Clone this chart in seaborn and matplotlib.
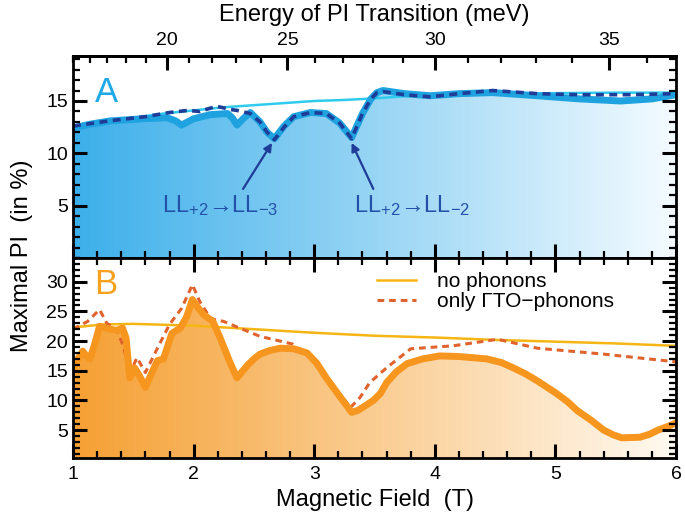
import numpy as np
import matplotlib
matplotlib.use('Agg')
import matplotlib.pyplot as plt
import seaborn as sns
from matplotlib.colors import LinearSegmentedColormap
from matplotlib.ticker import MultipleLocator

# --- data (field in T, PI in %) ---
field_a_thick = [1.0, 1.03, 1.15, 1.31, 1.58, 1.78, 1.85, 1.9, 1.95, 2.0, 2.14, 2.28, 2.32,
                 2.36, 2.41, 2.47, 2.55, 2.61, 2.67, 2.75, 2.83, 2.97, 3.1, 3.21, 3.31, 3.4,
                 3.47, 3.52, 3.57, 3.75, 3.96, 4.2, 4.48, 4.85, 5.2, 5.54, 5.8, 6.0]
pi_a_thick = [12.4, 12.5, 12.8, 13.1, 13.3, 13.4, 13.1, 12.7, 13.0, 13.3, 13.7, 13.8, 13.4,
              12.7, 13.3, 13.9, 13.0, 12.0, 11.4, 12.6, 13.5, 13.9, 13.8, 12.9, 11.5, 13.8,
              15.2, 15.8, 16.0, 15.7, 15.5, 15.7, 15.8, 15.5, 15.2, 15.0, 15.2, 15.6]

field_a_dash = [1.0, 1.3, 1.6, 1.8, 1.95, 2.05, 2.19, 2.3, 2.36, 2.47, 2.55, 2.61, 2.67, 2.75,
                2.83, 2.97, 3.1, 3.21, 3.31, 3.4, 3.47, 3.52, 3.57, 3.75, 3.96, 4.2, 4.48,
                4.85, 5.2, 5.6, 6.0]
pi_a_dash = [12.6, 13.1, 13.5, 13.9, 14.1, 14.0, 14.5, 14.2, 14.1, 13.8, 13.0, 12.0, 11.3, 12.5,
             13.5, 13.9, 13.8, 12.9, 11.4, 13.8, 15.2, 15.8, 15.9, 15.6, 15.4, 15.7, 16.0,
             15.7, 15.6, 15.6, 15.7]

field_a_thin = [1.0, 1.25, 1.5, 1.75, 2.0, 2.25, 2.5, 2.75, 3.0, 3.25, 3.5, 3.75, 4.0, 4.5,
                5.0, 5.5, 6.0]
pi_a_thin = [12.4, 12.9, 13.4, 13.8, 14.1, 14.4, 14.6, 14.8, 15.0, 15.1, 15.25, 15.45, 15.6,
             15.7, 15.75, 15.8, 15.8]

field_b_thick = [1.0, 1.04, 1.08, 1.11, 1.14, 1.18, 1.22, 1.27, 1.31, 1.36, 1.41, 1.44, 1.47,
                 1.51, 1.55, 1.6, 1.65, 1.7, 1.75, 1.82, 1.89, 1.94, 1.99, 2.03, 2.08, 2.16,
                 2.21, 2.26, 2.31, 2.36, 2.4, 2.45, 2.5, 2.55, 2.63, 2.72, 2.83, 2.94, 3.02,
                 3.1, 3.2, 3.31, 3.36, 3.4, 3.49, 3.55, 3.6, 3.68, 3.77, 3.9, 4.04, 4.2, 4.43,
                 4.55, 4.65, 4.75, 4.85, 5.0, 5.1, 5.18, 5.3, 5.4, 5.48, 5.55, 5.7, 5.78,
                 5.85, 5.93, 6.0]
pi_b_thick = [15.5, 17.0, 18.3, 17.5, 17.0, 19.5, 22.5, 22.2, 22.0, 21.8, 22.2, 20.5, 13.8,
              15.5, 14.2, 12.2, 14.5, 16.7, 17.0, 21.3, 22.2, 24.0, 27.0, 25.8, 24.5, 23.3,
              21.0, 18.5, 16.0, 13.8, 14.8, 16.0, 17.0, 17.8, 18.4, 18.8, 18.7, 18.0, 16.3,
              13.8, 11.0, 8.0, 8.3, 8.8, 10.0, 11.2, 13.0, 14.8, 16.2, 17.0, 17.5, 17.4, 17.0,
              16.4, 15.5, 14.5, 13.3, 11.3, 9.8, 8.3, 6.6, 5.0, 4.2, 3.7, 3.8, 4.3,
              5.0, 5.6, 6.2]

field_b_dash = [1.0, 1.12, 1.22, 1.28, 1.36, 1.42, 1.47, 1.53, 1.6, 1.7, 1.8, 1.9, 1.99, 2.05,
                2.14, 2.25, 2.38, 2.55, 2.82, 3.02, 3.19, 3.3, 3.38, 3.46, 3.6, 3.8, 4.15,
                4.52, 4.85, 5.4, 6.0]
pi_b_dash = [22.0, 23.3, 25.3, 23.0, 22.0, 19.0, 14.5, 17.2, 14.7, 18.8, 22.8, 25.5, 29.5, 26.7,
             23.8, 23.3, 22.2, 20.8, 19.5, 16.3, 11.7, 8.8, 10.5, 13.0, 15.5, 18.7, 19.2,
             20.3, 18.8, 17.8, 16.5]

field_b_thin = [1.0, 1.25, 1.5, 2.0, 2.5, 3.0, 3.5, 4.0, 4.5, 5.0, 5.5, 6.0]
pi_b_thin = [22.3, 22.8, 22.9, 22.6, 22.0, 21.4, 20.9, 20.6, 20.2, 19.9, 19.6, 19.2]

energy_ticks = [20, 25, 30, 35]
legend_labels = ['no phonons', 'only ΓTO−phonons']

# --- style (plain matplotlib rc, no seaborn theme) ---
plt.rcParams['font.family'] = ['Liberation Sans', 'DejaVu Sans']
plt.rcParams['mathtext.fontset'] = 'custom'
plt.rcParams['mathtext.rm'] = 'Liberation Sans'
plt.rcParams['mathtext.it'] = 'Liberation Sans'
plt.rcParams['axes.linewidth'] = 2.0
plt.rcParams['xtick.labelsize'] = 14
plt.rcParams['ytick.labelsize'] = 14

BLUE_FILL = LinearSegmentedColormap.from_list('bf', ['#3cafea', '#f4fbff'])
ORANGE_FILL = LinearSegmentedColormap.from_list('of', ['#f5a033', '#fffaf2'])


def gradient_fill(ax, x, y, cmap, ymax):
    poly = ax.fill_between(x, 0, y, facecolor='none', edgecolor='none')
    grad = np.linspace(0, 1, 256).reshape(1, -1)
    im = ax.imshow(grad, extent=[1, 6, 0, ymax], aspect='auto', cmap=cmap,
                   origin='lower', zorder=0.5)
    im.set_clip_path(poly.get_paths()[0], transform=ax.transData)


def set_ticks_in(axis_obj, **kw):
    axis_obj.tick_params(which='major', direction='in', length=10, width=2.2, color='black', **kw)
    axis_obj.tick_params(which='minor', direction='in', length=5, width=1.6, color='black', **kw)


def style_axis(ax, ymin, ymax, ymajor):
    ax.set_xlim(1, 6)
    ax.set_ylim(ymin, ymax)
    ax.xaxis.set_major_locator(MultipleLocator(1))
    ax.xaxis.set_minor_locator(MultipleLocator(0.2))
    ax.yaxis.set_major_locator(MultipleLocator(ymajor))
    ax.yaxis.set_minor_locator(MultipleLocator(1))
    ax.set_xlabel('')
    ax.set_ylabel('')
    # keep the tick marks above the gradient and the curves
    ax.xaxis.set_zorder(6)
    ax.yaxis.set_zorder(6)


fig, (ax_a, ax_b) = plt.subplots(2, 1, figsize=(6.85, 5.17), dpi=100,
                                 gridspec_kw=dict(height_ratios=[0.3907, 0.3869], hspace=0))
fig.subplots_adjust(left=0.1066, right=0.9869, top=0.8917, bottom=0.1141)

# --- panel A ---
gradient_fill(ax_a, field_a_thick, pi_a_thick, BLUE_FILL, 19.3)
sns.lineplot(x=field_a_thin, y=pi_a_thin, ax=ax_a, color='#2fcbee', lw=1.8, sort=False)
sns.lineplot(x=field_a_thick, y=pi_a_thick, ax=ax_a, color='#1ea3e0', lw=5.0, sort=False)
sns.lineplot(x=field_a_dash, y=pi_a_dash, ax=ax_a, color='#1f3d98', lw=2.6, sort=False,
             linestyle=(0, (2.2, 1.5)))
style_axis(ax_a, 0, 19.3, 5)
ax_a.set_yticks([5, 10, 15])
set_ticks_in(ax_a, left=True, right=True, bottom=True, top=False, labelbottom=False)

sec = ax_a.secondary_xaxis('top', functions=(lambda b: 15.0 * np.sqrt(np.clip(b, 1e-6, None)),
                                             lambda e: (np.asarray(e) / 15.0) ** 2))
sec.set_xticks(energy_ticks)
sec.xaxis.set_minor_locator(MultipleLocator(1))
set_ticks_in(sec)
sec.tick_params(labelsize=14, pad=5)
sec.set_xlabel('Energy of PI Transition (meV)', fontsize=17, labelpad=8)

ax_a.text(0.055, 0.82, 'A', transform=ax_a.transAxes, fontsize=25, color='#1fa9e8',
          ha='center', va='center')

txt_col = '#2350a8'
ax_a.text(2.22, 5.0, r'LL$_{+2}$→LL$_{-3}$', fontsize=17, color=txt_col, ha='center', va='center')
ax_a.text(3.81, 5.0, r'LL$_{+2}$→LL$_{-2}$', fontsize=17, color=txt_col, ha='center', va='center')
arrow = dict(arrowstyle='-|>', lw=1.6, color='#1f3d98', mutation_scale=12, shrinkA=0, shrinkB=0)
ax_a.annotate('', xy=(2.65, 11.0), xytext=(2.41, 6.6), arrowprops=arrow)
ax_a.annotate('', xy=(3.31, 11.0), xytext=(3.49, 6.6), arrowprops=arrow)

# --- panel B ---
gradient_fill(ax_b, field_b_thick, pi_b_thick, ORANGE_FILL, 34)
sns.lineplot(x=field_b_thin, y=pi_b_thin, ax=ax_b, color='#f5b614', lw=1.8, sort=False,
             label=legend_labels[0])
sns.lineplot(x=field_b_dash, y=pi_b_dash, ax=ax_b, color='#e0622c', lw=2.2, sort=False,
             linestyle=(0, (2.2, 1.6)), label=legend_labels[1])
sns.lineplot(x=field_b_thick, y=pi_b_thick, ax=ax_b, color='#f7961e', lw=5.0, sort=False)
style_axis(ax_b, 0.3, 34, 5)
set_ticks_in(ax_b, left=True, right=True, bottom=True, top=True)
ax_b.tick_params(axis='x', pad=6)
ax_b.set_xlabel('Magnetic Field  (T)', fontsize=17, labelpad=4)

ax_b.text(0.055, 0.865, 'B', transform=ax_b.transAxes, fontsize=25, color='#f7a11e',
          ha='center', va='center')

ax_b.legend(loc='upper left', bbox_to_anchor=(0.49, 0.97), frameon=False, fontsize=15,
            handlelength=1.9, handletextpad=1.0, labelspacing=0.05, borderaxespad=0)

fig.text(0.032, 0.505, 'Maximal PI  (in %)', rotation=90, fontsize=17, ha='center', va='center')

fig.savefig('out.png', dpi=100)
